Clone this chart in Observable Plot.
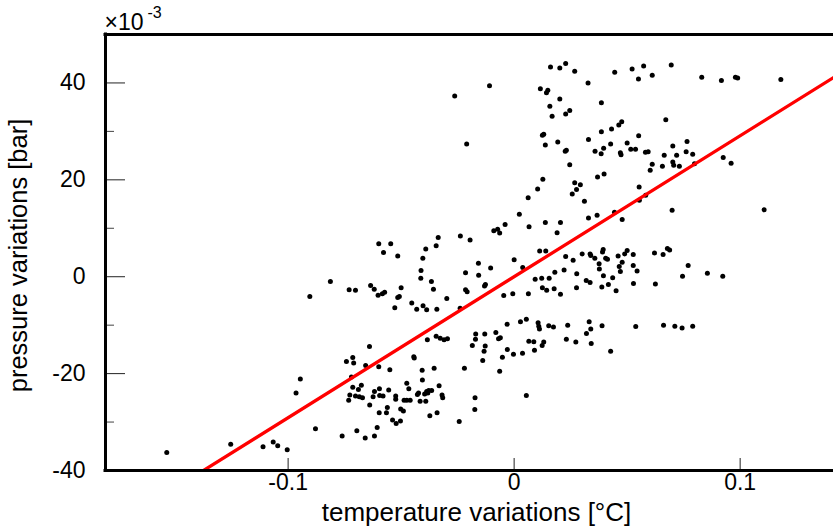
<!DOCTYPE html>
<html><head><meta charset="utf-8">
<script src="https://cdn.jsdelivr.net/npm/d3@7"></script>
<script src="https://cdn.jsdelivr.net/npm/@observablehq/plot@0.6"></script>
<style>html,body{margin:0;padding:0;background:#fff;} #chart{width:833px;height:529px;}</style>
</head><body><div id="chart"></div>
<script>
const xTickValues = [-0.1, 0, 0.1];
const yMajorTicks = [40, 20, 0, -20, -40];
const yMinorTicks = [30, 10, -10, -30];
const xDomain = [-0.1808, 0.1413];
const yDomain = [-40, 50];
const fitSlope = 291;     // (x10^-3 bar) per degC
const fitIntercept = 0;
const xLabel = "temperature variations [°C]";
const yLabel = "pressure variations [bar]";
const exponentBase = "×10";
const exponentPower = "-3";

// [temperature variation (°C), pressure variation (x10^-3 bar)]
const ptsTop = [
[0.0161,43.3],[0.0202,43.1],[0.0228,44.0],[0.0268,42.4],[0.0327,40.0],[-0.0109,39.4],[-0.0263,37.3],[0.0116,38.8],[0.0149,38.5],[0.0143,38.0],[0.0202,36.7],[0.0158,35.2],[0.0246,34.3],[0.0228,33.6],[0.0168,33.1],[-0.0210,27.4],[0.0131,29.4],[0.0125,29.2],[0.0138,27.2],[0.0193,27.8],[0.0329,28.3],[0.0231,26.1],[0.0226,25.9],[0.0246,23.1],[0.0127,20.1],[0.0104,18.1],[0.0268,19.4],[0.0293,19.0],[0.0276,18.0],[0.0257,17.1],[0.0311,15.6],[0.0062,16.3],[0.0023,12.9],[0.0329,12.1],[0.0066,10.3],[0.0138,11.2],[0.0205,11.2],[0.0190,9.1],[-0.0040,10.8],[-0.0090,9.5],[-0.0073,9.8],[-0.0064,9.0],[-0.0238,8.4],[-0.0195,7.6],[-0.0336,8.1]
];
const ptsTopRight = [
[0.0445,42.2],[0.0522,42.9],[0.0573,43.5],[0.0695,43.7],[0.0550,40.8],[0.0611,41.6],[0.0830,41.2],[0.0917,40.5],[0.0979,41.2],[0.0989,41.0],[0.1180,40.7],[0.0386,35.9],[0.0671,32.4],[0.0476,32.0],[0.0463,31.3],[0.0431,30.5],[0.0386,29.9],[0.0551,29.1],[0.0427,27.4],[0.0500,27.6],[0.0396,26.5],[0.0358,25.9],[0.0385,25.4],[0.0470,25.6],[0.0473,25.2],[0.0516,26.3],[0.0537,26.3],[0.0581,25.7],[0.0593,25.8],[0.0765,27.9],[0.0702,27.0],[0.0761,25.8],[0.0719,25.1],[0.0790,25.3],[0.0664,25.1],[0.0611,23.2],[0.0602,22.0],[0.0656,22.8],[0.0702,23.7],[0.0706,23.0],[0.0731,22.8],[0.0798,23.3],[0.0925,24.6],[0.0960,23.4],[0.0398,21.2],[0.0369,20.6],[0.0553,18.5],[0.0554,15.8],[0.0582,16.8],[0.0367,12.7],[0.0444,13.3],[0.0478,11.8],[0.0699,13.7],[0.1106,13.8]
];
const ptsRight = [
[0.0336,4.7],[0.0339,4.4],[0.0357,3.8],[0.0394,5.6],[0.0391,5.1],[0.0405,3.8],[0.0413,3.6],[0.0376,2.7],[0.0377,1.6],[0.0460,4.3],[0.0478,3.0],[0.0465,2.1],[0.0470,1.1],[0.0489,4.7],[0.0500,5.4],[0.0527,4.6],[0.0527,2.3],[0.0544,1.2],[0.0621,4.9],[0.0659,4.6],[0.0678,5.8],[0.0688,5.5],[0.0395,0.2],[0.0436,-0.2],[0.0319,-0.8],[0.0336,-1.2],[0.0388,-2.1],[0.0417,-1.6],[0.0451,-2.9],[0.0528,-1.4],[0.0625,-1.5],[0.0745,0.1],[0.0770,2.3],[0.0855,0.7],[0.0923,0.1],[0.0332,-9.3],[0.0339,-10.8],[0.0320,-11.7],[0.0341,-13.8],[0.0389,-10.1],[0.0427,-15.4],[0.0538,-10.3],[0.0661,-10.0],[0.0711,-10.2],[0.0743,-10.6],[0.0790,-10.2]
];
const ptsMiddle = [
[-0.0599,6.8],[-0.0546,6.8],[-0.0578,5.0],[-0.0515,4.3],[-0.0391,5.7],[-0.0345,6.4],[-0.0404,3.8],[0.0113,5.3],[0.0140,5.3],[0.0228,4.2],[0.0261,3.4],[0.0301,4.7],[0.0000,3.5],[0.0038,1.9],[-0.0158,2.8],[-0.0104,1.8],[-0.0215,0.8],[-0.0157,0.3],[-0.0127,-1.6],[-0.0131,-1.9],[-0.0046,-3.9],[-0.0006,-3.5],[0.0063,-3.5],[0.0093,-0.5],[0.0122,-0.3],[0.0155,-0.3],[0.0180,0.9],[0.0221,1.4],[0.0277,0.6],[0.0125,-2.3],[0.0144,-2.8],[0.0177,-2.5],[0.0205,-3.6],[0.0276,-2.3],[-0.0412,1.3],[-0.0413,-0.3],[-0.0366,-1.0],[-0.0357,-2.6],[-0.0298,-4.5],[-0.0342,-6.7],[-0.0453,-5.4],[-0.0431,-6.7],[-0.0403,-6.0],[-0.0387,-6.8],[-0.0528,-6.4],[-0.0515,-4.3],[-0.0508,-4.1],[-0.0500,-2.3],[-0.0573,-3.2],[-0.0583,-3.5],[-0.0602,-3.8],[-0.0619,-2.6],[-0.0635,-1.8],[-0.0730,-2.7],[-0.0702,-2.8],[-0.0239,-6.5],[-0.0215,-2.7],[-0.0208,-3.1]
];
const ptsLowerMiddle = [
[-0.0384,-13.0],[-0.0345,-12.3],[-0.0327,-12.7],[-0.0310,-13.0],[-0.0295,-12.8],[-0.0170,-11.8],[-0.0171,-12.9],[-0.0130,-11.8],[-0.0081,-11.5],[-0.0069,-12.8],[-0.0061,-12.6],[-0.0185,-14.2],[-0.0128,-14.3],[-0.0133,-15.4],[-0.0139,-17.3],[-0.0031,-9.8],[0.0028,-9.3],[0.0054,-8.8],[0.0106,-9.5],[0.0109,-10.2],[0.0112,-10.8],[0.0153,-10.1],[0.0174,-10.4],[0.0237,-10.0],[0.0065,-13.3],[0.0087,-13.4],[0.0131,-13.5],[0.0124,-14.2],[0.0090,-15.2],[-0.0030,-15.0],[-0.0003,-16.0],[0.0037,-15.8],[-0.0052,-16.6],[-0.0064,-19.5],[0.0231,-12.9],[0.0273,-13.5],[-0.0220,-18.9],[0.0054,-24.5],[-0.0173,-25.0],[-0.0174,-27.4],[-0.0243,-29.9]
];
const ptsLower = [
[-0.0373,-28.7],[-0.0341,-28.1],[-0.0354,-18.9],[-0.0407,-19.3],[-0.0406,-21.3],[-0.0444,-16.5],[-0.0442,-16.8],[-0.0550,-19.2],[-0.0599,-18.6],[-0.0640,-14.4],[-0.0657,-18.3],[-0.0714,-16.7],[-0.0710,-17.8],[-0.0742,-17.5],[-0.0720,-20.7],[-0.0714,-22.8],[-0.0676,-22.4],[-0.0689,-23.3],[-0.0727,-24.4],[-0.0732,-25.5],[-0.0702,-24.6],[-0.0685,-24.8],[-0.0671,-25.0],[-0.0618,-23.7],[-0.0624,-24.8],[-0.0596,-23.1],[-0.0595,-24.5],[-0.0580,-24.6],[-0.0639,-26.5],[-0.0555,-23.4],[-0.0524,-24.6],[-0.0524,-25.3],[-0.0561,-27.0],[-0.0597,-28.1],[-0.0565,-28.1],[-0.0502,-27.3],[-0.0490,-27.7],[-0.0487,-25.5],[-0.0475,-25.5],[-0.0460,-25.5],[-0.0475,-22.0],[-0.0466,-23.1],[-0.0428,-24.3],[-0.0423,-24.0],[-0.0416,-25.7],[-0.0391,-25.7],[-0.0396,-24.2],[-0.0387,-23.7],[-0.0378,-23.5],[-0.0365,-23.5],[-0.0382,-24.0],[-0.0332,-22.5],[-0.0319,-24.4],[-0.0316,-25.0],[-0.0538,-29.6],[-0.0522,-30.3],[-0.0503,-29.8],[-0.0606,-31.1],[-0.0618,-32.9],[-0.0659,-33.3],[-0.0696,-31.8],[-0.0761,-32.9]
];
const ptsLeft = [
[-0.0813,-1.0],[-0.0904,-4.1],[-0.0946,-21.1],[-0.0965,-24.0],[-0.0879,-31.4],[-0.1254,-34.6],[-0.1111,-35.1],[-0.1066,-34.1],[-0.1046,-34.9],[-0.1004,-35.7],[-0.1537,-36.3]
];

const points = [...ptsTop, ...ptsTopRight, ...ptsRight, ...ptsMiddle, ...ptsLowerMiddle, ...ptsLower, ...ptsLeft]
  .map(([t, p]) => ({t, p}));
const fitLine = xDomain.map(t => ({t, p: fitSlope * t + fitIntercept}));

const W = 833, H = 529, mL = 105, mR = 0, mT = 34, mB = 59;
const frameW = W - mL - mR, frameH = H - mT - mB;
const tickFont = 23, labelFont = 25.5;

const chart = Plot.plot({
  width: W, height: H,
  marginLeft: mL, marginRight: mR, marginTop: mT, marginBottom: mB,
  style: {fontFamily: "'Liberation Sans', Arial, Helvetica, sans-serif", background: "white", color: "black", overflow: "visible"},
  x: {domain: xDomain, axis: null},
  y: {domain: yDomain, axis: null},
  marks: [
    Plot.dot(points, {x: "t", y: "p", r: 2.5, fill: "black", stroke: "none"}),
    Plot.line(fitLine, {x: "t", y: "p", stroke: "#ff0000", strokeWidth: 3.3, clip: true}),
    // ticks (inward)
    Plot.ruleY(yMajorTicks, {y: d => d, stroke: "#222", strokeWidth: 1, insetRight: frameW - 20}),
    Plot.ruleY(yMinorTicks, {y: d => d, stroke: "#444", strokeWidth: 1, insetRight: frameW - 9}),
    Plot.ruleX(xTickValues, {x: d => d, stroke: "#222", strokeWidth: 1, insetTop: frameH - 12}),
    // axis lines
    Plot.ruleX([xDomain[0]], {stroke: "black", strokeWidth: 3, strokeLinecap: "square"}),
    Plot.ruleY(yDomain, {stroke: "black", strokeWidth: 3, strokeLinecap: "square"}),
    // tick labels
    Plot.text(yMajorTicks, {y: d => d, text: d => String(d), frameAnchor: "left", textAnchor: "end", dx: -20, fontSize: tickFont, fill: "black"}),
    Plot.text(xTickValues, {x: d => d, text: d => String(d), frameAnchor: "bottom", lineAnchor: "top", dy: 3, fontSize: tickFont, fill: "black"}),
    // axis labels
    Plot.text([xLabel], {text: d => d, frameAnchor: "bottom", textAnchor: "middle", lineAnchor: "middle", dx: 7, dy: 42, fontSize: 26, fill: "black"}),
    Plot.text([yLabel], {text: d => d, frameAnchor: "left", textAnchor: "middle", lineAnchor: "middle", rotate: -90, dx: -87, dy: 3, fontSize: labelFont, fill: "black"}),
    // exponent
    Plot.text([exponentBase], {text: d => d, frameAnchor: "top-left", textAnchor: "start", lineAnchor: "bottom", dx: -1, dy: -5, fontSize: tickFont, fill: "black"}),
    Plot.text([exponentPower], {text: d => d, frameAnchor: "top-left", textAnchor: "start", lineAnchor: "bottom", dx: 42, dy: -17, fontSize: 16, fill: "black"})
  ]
});
document.getElementById("chart").appendChild(chart);
</script>
</body></html>
